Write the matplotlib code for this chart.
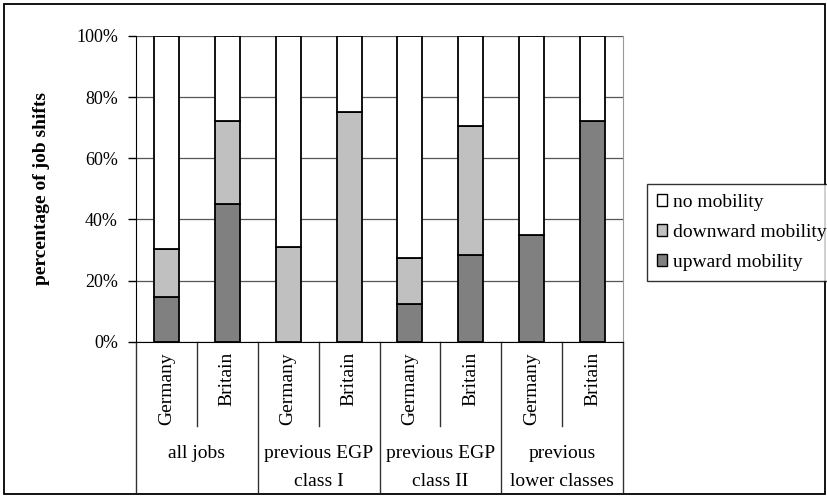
"""Job shifts by mobility type, Germany vs Britain."""

import matplotlib

matplotlib.use("Agg")
import matplotlib.pyplot as plt
from matplotlib.patches import Patch, Rectangle
import numpy as np

plt.rcParams["font.family"] = ["Liberation Serif", "DejaVu Serif"]

countries = ["Germany", "Britain"] * 4
groups = ["all jobs", "previous EGP\nclass I", "previous EGP\nclass II", "previous\nlower classes"]

# percentages, bottom to top
upward = [14.7, 45.1, 0.0, 0.0, 12.3, 28.4, 34.9, 72.1]
downward = [15.7, 27.0, 31.0, 75.0, 15.2, 42.2, 0.0, 0.0]
no_mob = [100 - u - d for u, d in zip(upward, downward)]

series = [
    ("upward mobility", upward, "#808080"),
    ("downward mobility", downward, "#c0c0c0"),
    ("no mobility", no_mob, "#ffffff"),
]

W, H = 827, 496
fig = plt.figure(figsize=(W / 100, H / 100), dpi=100)

# plot area in pixels
left, right, top, bottom = 136, 623, 36, 341.7
ax = fig.add_axes([left / W, 1 - bottom / H, (right - left) / W, (bottom - top) / H])

x = np.arange(len(countries))
base = np.zeros(len(countries))
for name, vals, col in series:
    ax.bar(x, vals, 0.41, bottom=base, color=col, edgecolor="black", linewidth=1.3, zorder=3)
    base += np.array(vals)

ax.set_xlim(-0.5, len(countries) - 0.5)
ax.set_ylim(0, 100)
ax.set_yticks(np.arange(0, 101, 20))
ax.set_yticklabels([f"{v}%" for v in range(0, 101, 20)])
ax.tick_params(axis="y", length=6, width=1, direction="out", pad=7, labelsize=13)
ax.set_xticks([])
ax.grid(axis="y", color="#555555", linewidth=0.9, zorder=0)
ax.set_axisbelow(True)

ax.spines["top"].set_visible(False)
ax.spines["right"].set_color("#999999")
ax.spines["left"].set_color("black")
ax.spines["bottom"].set_color("black")

ax.set_ylabel("percentage of job shifts", fontsize=14, fontweight="bold")
ax.yaxis.set_label_coords(-0.176, 0.5)

# category table below the axis
ph = bottom - top
tr = ax.get_xaxis_transform()
table_bot = -(492 - bottom) / ph
inner_bot = -(425.7 - bottom) / ph
for gx in [-0.5, 1.5, 3.5, 5.5, 7.5]:
    ax.plot([gx, gx], [0, table_bot], transform=tr, color="#333333", lw=1, clip_on=False)
for ix in [0.5, 2.5, 4.5, 6.5]:
    ax.plot([ix, ix], [0, inner_bot], transform=tr, color="#333333", lw=1, clip_on=False)

for i, c in enumerate(countries):
    ax.text(i, -(352 - bottom) / ph, c, transform=tr, rotation=90,
            ha="center", va="top", fontsize=14)

for g, label in enumerate(groups):
    for k, line in enumerate(label.split("\n")):
        ax.text(2 * g + 0.5, -(453 + 29 * k - bottom) / ph, line, transform=tr,
                ha="center", va="center", fontsize=14)

# legend
handles = [Patch(facecolor=col, edgecolor="black", linewidth=1, label=name)
           for name, vals, col in reversed(series)]
fig.legend(handles=handles, loc="upper left", bbox_to_anchor=(647 / W, 1 - 184 / H),
           frameon=True, fancybox=False, edgecolor="black", fontsize=14,
           handlelength=0.55, handleheight=0.55, handletextpad=0.3,
           labelspacing=0.68, borderpad=0.5, borderaxespad=0)

# outer frame
fig.patches.append(Rectangle((4 / W, 2 / H), 821 / W, 490 / H, transform=fig.transFigure,
                             fill=False, edgecolor="black", linewidth=1.3))

fig.savefig("out.png", dpi=100)
